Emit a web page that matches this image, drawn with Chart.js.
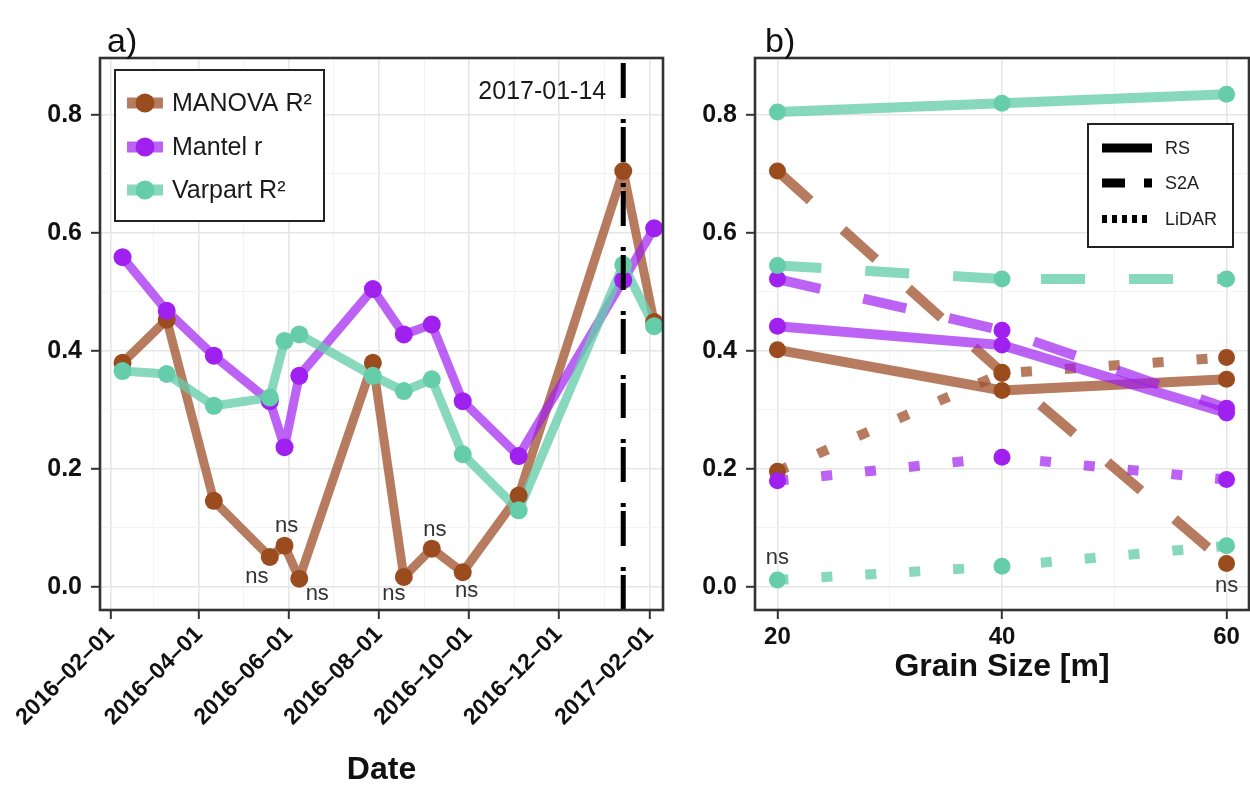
<!DOCTYPE html>
<html>
<head>
<meta charset="utf-8">
<script src="https://cdn.jsdelivr.net/npm/chart.js@4/dist/chart.umd.min.js"></script>
<style>
  html, body { margin: 0; padding: 0; background: #fff; }
  #wrap { position: relative; width: 1250px; height: 790px; overflow: hidden; background: #fff; }
  #ca { position: absolute; left: 0; top: 0; }
  #cb { position: absolute; left: 690px; top: 0; }
</style>
</head>
<body>
<div id="wrap">
  <canvas id="ca" width="690" height="790"></canvas>
  <canvas id="cb" width="560" height="790"></canvas>
</div>
<script>
// ---------- Panel a: association strength per acquisition date ----------
const sampleDates = ['2016-02-09', '2016-03-10', '2016-04-11', '2016-05-19', '2016-05-29', '2016-06-08',
                     '2016-07-28', '2016-08-18', '2016-09-06', '2016-09-27', '2016-11-04', '2017-01-14', '2017-02-04'];
const manovaR2   = [0.380, 0.453, 0.146, 0.051, 0.070, 0.014, 0.380, 0.017, 0.065, 0.025, 0.155, 0.705, 0.449];
const mantelR    = [0.559, 0.468, 0.392, 0.315, 0.237, 0.358, 0.505, 0.428, 0.445, 0.315, 0.222, 0.520, 0.608];
const varpartR2  = [0.366, 0.361, 0.307, 0.321, 0.417, 0.428, 0.358, 0.332, 0.352, 0.225, 0.130, 0.546, 0.442];
const manovaSignificant = [true, true, true, false, false, false, true, false, false, false, true, true, true];
const seriesNames = ['MANOVA R²', 'Mantel r', 'Varpart R²'];
const markedDate = '2017-01-14';
const dateTicks = ['2016-02-01', '2016-04-01', '2016-06-01', '2016-08-01', '2016-10-01', '2016-12-01', '2017-02-01'];
const dateMinorTicks = ['2016-03-01', '2016-05-01', '2016-07-01', '2016-09-01', '2016-11-01', '2017-01-01'];

// ---------- Panel b: association strength per grain size ----------
const grainSizes = [20, 40, 60];
const sourceNames = ['RS', 'S2A', 'LiDAR'];
const manovaRS     = [0.402, 0.333, 0.352];
const manovaS2A    = [0.705, 0.364, 0.040];
const manovaLiDAR  = [0.196, 0.362, 0.389];
const mantelRS     = [0.442, 0.410, 0.295];
const mantelS2A    = [0.522, 0.435, 0.303];
const mantelLiDAR  = [0.180, 0.220, 0.182];
const varpartRS    = [0.805, 0.820, 0.835];
const varpartS2A   = [0.545, 0.522, 0.522];
const varpartLiDAR = [0.012, 0.035, 0.070];
// non-significant results in panel b: [measure index, source index, grain index]
const grainNotSignificant = [[2, 2, 0], [0, 1, 2]];

const yTicks = [0, 0.1, 0.2, 0.3, 0.4, 0.5, 0.6, 0.7, 0.8];

// ---------- styling ----------
const FONT = "'Liberation Sans', Arial, Helvetica, sans-serif";
Chart.defaults.font.family = FONT;
Chart.defaults.color = '#111';
const styles = [
  { line: 'rgba(160,82,45,0.76)',  point: '#9b4c1f' },
  { line: 'rgba(160,32,240,0.70)', point: '#a020f0' },
  { line: 'rgba(102,205,170,0.78)', point: '#66cdaa' }
];
const sourceDash = { RS: [], S2A: [44, 44], LiDAR: [11, 33] };
const nsNudgeA = [[-13, 20], [2, -20], [18, 15], [-10, 17], [3, -19], [4, 19]];
const nsNudgeB = [[0, -22], [0, 23]];

function dayOf(s) {
  const t = Date.UTC(+s.slice(0, 4), +s.slice(5, 7) - 1, +s.slice(8, 10));
  return (t - Date.UTC(2016, 1, 1)) / 864e5;
}
const majorDays = new Map(dateTicks.map(d => [dayOf(d), d.replace(/-/g, '–')]));
const isMajorY = v => Math.abs(Math.round(v * 10)) % 2 === 0;

function yScale(width) {
  return {
    type: 'linear', min: -0.039, max: 0.8966,
    afterBuildTicks: s => { s.ticks = yTicks.map(v => ({ value: v })); },
    afterFit: s => { s.width = width; s.paddingTop = 0; s.paddingBottom = 0; },
    border: { display: false },
    grid: {
      color: c => isMajorY(c.tick.value) ? '#e6e6e6' : '#f3f3f3',
      lineWidth: c => isMajorY(c.tick.value) ? 1.6 : 1,
      tickColor: c => isMajorY(c.tick.value) ? '#333' : 'rgba(0,0,0,0)',
      tickLength: 9, tickWidth: 2
    },
    ticks: {
      autoSkip: false, padding: 9, color: '#111',
      font: { size: 25, weight: 'bold', family: FONT },
      callback: v => isMajorY(v) ? v.toFixed(1) : ''
    }
  };
}
// fixed-height bottom axis without extra side padding for its labels
function fixBottom(height) {
  return s => { s.height = height; s.paddingLeft = 0; s.paddingRight = 0; };
}

function drawBorder(ctx, a) {
  ctx.save();
  ctx.strokeStyle = '#333';
  ctx.lineWidth = 2.6;
  ctx.strokeRect(a.left, a.top, a.right - a.left, a.bottom - a.top);
  ctx.restore();
}
function drawTag(ctx, text, x) {
  ctx.save();
  ctx.fillStyle = '#111';
  ctx.font = '34px ' + FONT;
  ctx.textAlign = 'left';
  ctx.textBaseline = 'alphabetic';
  ctx.fillText(text, x, 52);
  ctx.restore();
}

// ---------- chart a ----------
const datasetsA = [];
[manovaR2, mantelR, varpartR2].forEach((vals, k) => {
  const pts = sampleDates.map((d, i) => ({ x: dayOf(d), y: vals[i] }));
  datasetsA.push({
    label: seriesNames[k], data: pts, borderColor: styles[k].line, borderWidth: 9,
    borderJoinStyle: 'round', pointRadius: 0, order: 5 - k
  });
  datasetsA.push({
    label: seriesNames[k], data: pts, showLine: false, pointRadius: 9,
    pointBackgroundColor: styles[k].point, pointBorderWidth: 0, order: 2 - k
  });
});

const panelAExtras = {
  id: 'panelAExtras',
  afterDatasetsDraw(chart) {
    const { ctx, chartArea: a, scales: { x } } = chart;
    const vx = x.getPixelForValue(dayOf(markedDate));
    ctx.save();
    ctx.beginPath(); ctx.rect(a.left, a.top, a.right - a.left, a.bottom - a.top); ctx.clip();
    ctx.strokeStyle = '#000'; ctx.lineWidth = 5;
    ctx.setLineDash([35, 21, 4, 4]); ctx.lineDashOffset = -5;
    ctx.beginPath(); ctx.moveTo(vx, a.top); ctx.lineTo(vx, a.bottom); ctx.stroke();
    ctx.restore();

    ctx.save();
    ctx.fillStyle = '#1a1a1a';
    ctx.font = '25px ' + FONT;
    ctx.textAlign = 'right'; ctx.textBaseline = 'middle';
    ctx.fillText(markedDate, vx - 17, a.top + 34);

    // non-significant MANOVA results
    const meta = chart.getDatasetMeta(1);
    ctx.font = '22px ' + FONT; ctx.fillStyle = '#333'; ctx.textAlign = 'center';
    let n = 0;
    manovaSignificant.forEach((sig, i) => {
      if (sig) return;
      const el = meta.data[i];
      const [dx, dy] = nsNudgeA[n++] || [0, 20];
      ctx.fillText('ns', el.x + dx, el.y + dy);
    });
    ctx.restore();
  },
  afterDraw(chart) {
    const { ctx, chartArea: a } = chart;
    drawBorder(ctx, a);
    // legend
    const lx = a.left + 15, ly = a.top + 12, lw = 209, lh = 151;
    ctx.save();
    ctx.fillStyle = '#fff'; ctx.fillRect(lx, ly, lw, lh);
    ctx.strokeStyle = '#222'; ctx.lineWidth = 2; ctx.strokeRect(lx, ly, lw, lh);
    const rows = [33, 77, 120];
    seriesNames.forEach((name, k) => {
      const yy = ly + rows[k];
      ctx.strokeStyle = styles[k].line; ctx.lineWidth = 11; ctx.lineCap = 'butt';
      ctx.beginPath(); ctx.moveTo(lx + 12, yy); ctx.lineTo(lx + 48, yy); ctx.stroke();
      ctx.fillStyle = styles[k].point;
      ctx.beginPath(); ctx.arc(lx + 30, yy, 9.5, 0, Math.PI * 2); ctx.fill();
      ctx.fillStyle = '#1a1a1a'; ctx.font = '25px ' + FONT;
      ctx.textAlign = 'left'; ctx.textBaseline = 'middle';
      ctx.fillText(name, lx + 57, yy + 1);
    });
    ctx.restore();
    drawTag(ctx, 'a)', 107);
  }
};

new Chart(document.getElementById('ca'), {
  type: 'line',
  data: { datasets: datasetsA },
  options: {
    responsive: false, animation: false,
    layout: { autoPadding: false, padding: { left: 0, right: 27, top: 58, bottom: 0 } },
    plugins: { legend: { display: false }, tooltip: { enabled: false } },
    scales: {
      x: {
        type: 'linear', min: -7.3, max: 375,
        afterBuildTicks: s => {
          s.ticks = [...dateTicks, ...dateMinorTicks].map(dayOf).sort((p, q) => p - q).map(v => ({ value: v }));
        },
        afterFit: fixBottom(180),
        border: { display: false },
        grid: {
          color: c => majorDays.has(c.tick.value) ? '#e6e6e6' : '#f3f3f3',
          lineWidth: c => majorDays.has(c.tick.value) ? 1.6 : 1,
          tickColor: c => majorDays.has(c.tick.value) ? '#333' : 'rgba(0,0,0,0)',
          tickLength: 9, tickWidth: 2
        },
        ticks: {
          autoSkip: false, minRotation: 45, maxRotation: 45, padding: 2, color: '#111',
          font: { size: 23, weight: 'bold', family: FONT },
          callback: v => majorDays.get(v) || ''
        },
        title: {
          display: true, text: 'Date', color: '#111',
          font: { size: 32, weight: 'bold', family: FONT },
          padding: { top: 0, bottom: 1 }
        }
      },
      y: yScale(100)
    }
  },
  plugins: [panelAExtras]
});

// ---------- chart b ----------
const panelBSeries = [
  [manovaRS, manovaS2A, manovaLiDAR],
  [mantelRS, mantelS2A, mantelLiDAR],
  [varpartRS, varpartS2A, varpartLiDAR]
];
const datasetsB = [];
const pointIndexB = {};
panelBSeries.forEach((bySource, k) => {
  bySource.forEach((vals, s) => {
    const pts = grainSizes.map((g, i) => ({ x: g, y: vals[i] }));
    datasetsB.push({
      label: seriesNames[k] + ' ' + sourceNames[s], data: pts, borderColor: styles[k].line,
      borderWidth: 10, borderDash: sourceDash[sourceNames[s]], borderCapStyle: 'butt',
      pointRadius: 0, order: 20 - k * 3 - s
    });
    pointIndexB[k + '_' + s] = datasetsB.length;
    datasetsB.push({
      label: seriesNames[k] + ' ' + sourceNames[s], data: pts, showLine: false, pointRadius: 8.5,
      pointBackgroundColor: styles[k].point, pointBorderWidth: 0, order: 9 - k * 3 - s
    });
  });
});

const panelBExtras = {
  id: 'panelBExtras',
  afterDatasetsDraw(chart) {
    const { ctx } = chart;
    ctx.save();
    ctx.font = '22px ' + FONT; ctx.fillStyle = '#333';
    ctx.textAlign = 'center'; ctx.textBaseline = 'middle';
    grainNotSignificant.forEach(([k, s, i], n) => {
      const el = chart.getDatasetMeta(pointIndexB[k + '_' + s]).data[i];
      const [dx, dy] = nsNudgeB[n];
      ctx.fillText('ns', el.x + dx, el.y + dy);
    });
    ctx.restore();
  },
  afterDraw(chart) {
    const { ctx, chartArea: a } = chart;
    drawBorder(ctx, a);
    // line type legend
    const lx = 398, ly = 124, lw = 145, lh = 123;
    ctx.save();
    ctx.fillStyle = '#fff'; ctx.fillRect(lx, ly, lw, lh);
    ctx.strokeStyle = '#222'; ctx.lineWidth = 2; ctx.strokeRect(lx, ly, lw, lh);
    const rows = [24, 59, 95];
    const keyDash = [[], [23, 19], [5, 5]];
    sourceNames.forEach((name, s) => {
      const yy = ly + rows[s];
      ctx.strokeStyle = '#000'; ctx.lineWidth = s === 2 ? 8 : 9; ctx.lineCap = 'butt';
      ctx.setLineDash(keyDash[s]);
      ctx.beginPath(); ctx.moveTo(lx + 14, yy); ctx.lineTo(lx + 64, yy); ctx.stroke();
      ctx.setLineDash([]);
      ctx.fillStyle = '#222'; ctx.font = '18px ' + FONT;
      ctx.textAlign = 'left'; ctx.textBaseline = 'middle';
      ctx.fillText(name, lx + 77, yy + 1);
    });
    ctx.restore();
    drawTag(ctx, 'b)', 75);
  }
};

new Chart(document.getElementById('cb'), {
  type: 'line',
  data: { datasets: datasetsB },
  options: {
    responsive: false, animation: false,
    layout: { autoPadding: false, padding: { left: 0, right: 1, top: 58, bottom: 0 } },
    plugins: { legend: { display: false }, tooltip: { enabled: false } },
    scales: {
      x: {
        type: 'linear', min: 18, max: 62,
        afterBuildTicks: s => { s.ticks = [20, 30, 40, 50, 60].map(v => ({ value: v })); },
        afterFit: fixBottom(180),
        border: { display: false },
        grid: {
          color: c => c.tick.value % 20 === 0 ? '#e6e6e6' : '#f3f3f3',
          lineWidth: c => c.tick.value % 20 === 0 ? 1.6 : 1,
          tickColor: c => c.tick.value % 20 === 0 ? '#333' : 'rgba(0,0,0,0)',
          tickLength: 9, tickWidth: 2
        },
        ticks: {
          autoSkip: false, maxRotation: 0, minRotation: 0, padding: 4, color: '#111',
          font: { size: 24, weight: 'bold', family: FONT },
          callback: v => grainSizes.includes(v) ? String(v) : ''
        },
        title: {
          display: true, text: 'Grain Size [m]', color: '#111',
          font: { size: 32, weight: 'bold', family: FONT },
          padding: { top: 0, bottom: 104 }
        }
      },
      y: yScale(65)
    }
  },
  plugins: [panelBExtras]
});
</script>
</body>
</html>
